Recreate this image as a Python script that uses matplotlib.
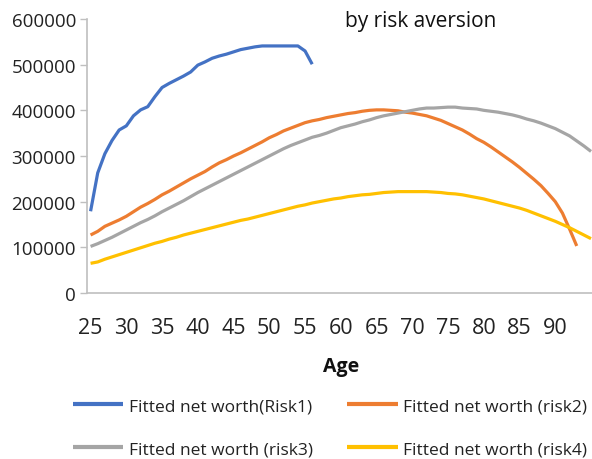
import matplotlib
matplotlib.use("Agg")
import matplotlib.pyplot as plt

plt.rcParams['font.family'] = ['Open Sans', 'DejaVu Sans']

ages_risk1 = list(range(25, 57))
risk1 = [179, 263, 305, 334, 357, 366, 388, 401, 408, 430, 450, 459, 467, 475,
         484, 499, 506, 514, 519, 523, 528, 533, 536, 539, 541, 541, 541, 541,
         541, 541, 530, 501]

ages_risk2 = list(range(25, 94))
risk2 = [127, 135, 146, 153, 160, 168, 178, 188, 196, 205, 215, 223, 232, 241,
         250, 258, 266, 276, 285, 292, 300, 307, 315, 323, 331, 340, 347, 355,
         361, 367, 373, 377, 380, 384, 387, 390, 393, 395, 398, 400, 401, 401,
         400, 399, 396, 394, 391, 388, 383, 378, 371, 364, 357, 348, 338, 330,
         320, 309, 298, 287, 275, 262, 249, 235, 218, 200, 175, 140, 103]

ages_risk3 = list(range(25, 96))
risk3 = [102, 108, 115, 122, 130, 138, 146, 154, 161, 169, 178, 186, 194, 202,
         211, 220, 228, 236, 244, 252, 260, 268, 276, 284, 292, 300, 308, 316,
         323, 329, 335, 341, 345, 350, 356, 362, 366, 370, 375, 379, 384, 388,
         391, 394, 397, 400, 403, 405, 405, 406, 407, 407, 405, 404, 403, 400,
         398, 396, 393, 390, 386, 381, 377, 372, 366, 360, 352, 344, 333, 322, 310]

ages_risk4 = list(range(25, 96))
risk4 = [65, 68, 74, 79, 84, 89, 94, 99, 104, 109, 113, 118, 122, 127, 131, 135,
         139, 143, 147, 151, 155, 159, 162, 166, 170, 174, 178, 182, 186, 190,
         193, 197, 200, 203, 206, 208, 211, 213, 215, 216, 218, 220, 221, 222,
         222, 222, 222, 222, 221, 220, 218, 217, 215, 212, 209, 206, 202, 198,
         194, 190, 186, 181, 175, 169, 163, 157, 150, 143, 135, 127, 119]

labels = ["Fitted net worth(Risk1)", "Fitted net worth (risk2)",
          "Fitted net worth (risk3)", "Fitted net worth (risk4)"]
colors = ["#4472C4", "#ED7D31", "#A5A5A5", "#FFC000"]
xticks = list(range(25, 95, 5))
yticks = [0, 100000, 200000, 300000, 400000, 500000, 600000]

fig = plt.figure(figsize=(5.92, 4.6), dpi=100)
ax = fig.add_axes([87/592, 1-294/460, (594.6-87)/592, (294-20)/460])

series = [(ages_risk1, risk1), (ages_risk2, risk2), (ages_risk3, risk3), (ages_risk4, risk4)]
lines = []
for (a, v), lab, c in zip(series, labels, colors):
    ln, = ax.plot(a, [x * 1000 for x in v], color=c, lw=2.3, label=lab,
                  solid_capstyle='butt', clip_on=True)
    lines.append(ln)

ax.set_xlim(24.5, 95.5)
ax.set_ylim(0, 600000)
ax.set_xticks(xticks)
ax.set_xticklabels([str(t) for t in xticks])
ax.set_yticks(yticks)
ax.set_yticklabels([str(t) for t in yticks])
for s in ['top', 'right']:
    ax.spines[s].set_visible(False)
for s in ['left', 'bottom']:
    ax.spines[s].set_color('#BFBFBF')
    ax.spines[s].set_linewidth(1.2)
ax.tick_params(axis='y', length=5, width=1.0, color='#BFBFBF', pad=3,
               labelsize=13.5, labelcolor='#222222')
ax.tick_params(axis='x', length=0, pad=17, labelsize=15.5, labelcolor='#222222')

ax.set_xlabel("Age", fontsize=14, fontweight='bold', labelpad=13, color='#111111')
fig.text(421/592, 1-22/460, "by risk aversion", ha='center', va='center',
         fontsize=15, color='#111111')

order = [0, 2, 1, 3]
leg = fig.legend([lines[i] for i in order], [labels[i] for i in order],
                 ncol=2, frameon=False, loc='upper left',
                 bbox_to_anchor=(73/592, 1-399/460), borderaxespad=0, borderpad=0,
                 fontsize=12.5, handlelength=2.9, handletextpad=0.3,
                 columnspacing=2.0, labelspacing=1.55)
for t in leg.get_texts():
    t.set_color('#222222')
for h in leg.legend_handles:
    h.set_linewidth(3)

fig.savefig("out.png", dpi=100)
